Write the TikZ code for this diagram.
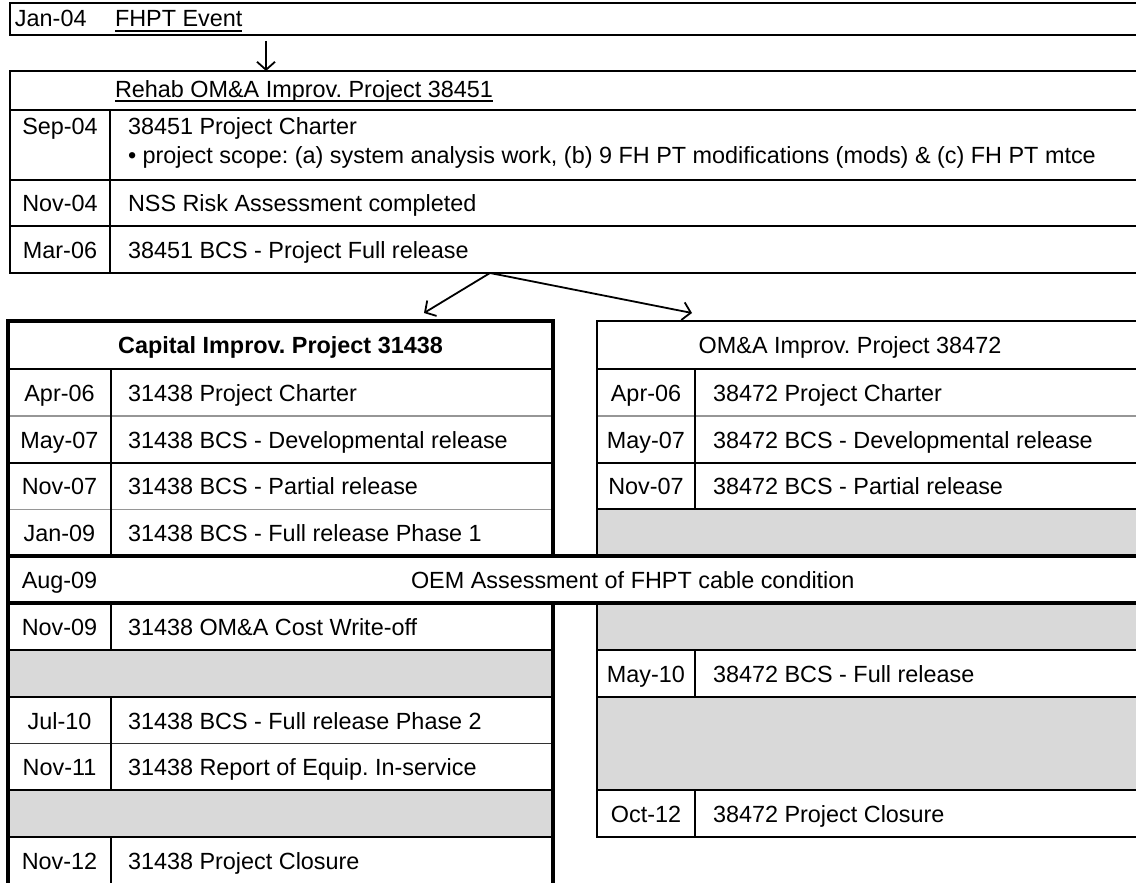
\documentclass[tikz,border=0pt]{standalone}
\usepackage{fontspec}
\setmainfont{Liberation Sans}
\usetikzlibrary{arrows.meta}
\definecolor{cellgray}{RGB}{217,217,217}
\definecolor{faintline}{RGB}{150,150,150}
\frenchspacing
\begin{document}
\begin{tikzpicture}[x=1pt,y=-1pt,
  lbl/.style={font=\fontsize{23.4}{28}\selectfont, inner sep=0pt, outer sep=0pt, anchor=base west, text=black},
  dte/.style={lbl, anchor=base},
  boxn/.style={draw, inner sep=0pt, outer sep=0pt, anchor=north west},
  heavy/.style={line width=3.6pt},
  outer/.style={line width=2.6pt},
  sep/.style={line width=2pt},
  faint/.style={line width=1.2pt, draw=faintline},
  ulin/.style={line width=1.6pt},
  arr/.style={line width=1.8pt, -{Straight Barb[length=8pt,width=18pt,line width=1.8pt]}}
]
\useasboundingbox (0,0) rectangle (1136,883);
\clip (0,0) rectangle (1136,883);
\fill[white] (0,0) rectangle (1136,883);

% ---------- top event ----------
\node[boxn, outer, minimum width=1130pt, minimum height=32pt] (janbox) at (10,3) {};
\node[lbl] (jan) at (15,27) {Jan-04};
\node[lbl] (fhpt) at (115,27) {FHPT Event};
\draw[ulin] ([yshift=-4pt]fhpt.base west) -- ([yshift=-4pt]fhpt.base east);

% ---------- rehab project ----------
\node[boxn, outer, minimum width=1130pt, minimum height=202pt] (rehab) at (10,71) {};
\draw[sep] (10,110) -- (1140,110);
\draw[sep] (10,180) -- (1140,180);
\draw[sep] (10,226) -- (1140,226);
\draw[sep] (110,110) -- (110,273);
\node[lbl] (rehabhdr) at (115,97) {Rehab OM\&A Improv. Project 38451};
\draw[ulin] ([yshift=-4pt]rehabhdr.base west) -- ([yshift=-4pt]rehabhdr.base east);
\node[dte] (r1d) at (60,135) {Sep-04};
\node[lbl] (r1t) at (128,135) {38451 Project Charter};
\node[lbl] (r1b) at (128,163) {\textbullet\ project scope: (a) system analysis work, (b) 9 FH PT modifications (mods) \& (c) FH PT mtce};
\node[dte] (r2d) at (60,211) {Nov-04};
\node[lbl] (r2t) at (128,211) {NSS Risk Assessment completed};
\node[dte] (r3d) at (60,258) {Mar-06};
\node[lbl] (r3t) at (128,258) {38451 BCS - Project Full release};

% arrows
\coordinate (ax) at (266,0);
\coordinate (sx) at (490,0);
\coordinate (tipL) at (424,313);
\coordinate (tipR) at (692,313);
\draw[arr, shorten <=6pt] (janbox.south -| ax) -- (rehab.north -| ax);
\draw[arr] (rehab.south -| sx) -- (tipL);
\draw[arr] (rehab.south -| sx) -- (tipR);

% ---------- capital project (left) ----------
\fill[cellgray] (8,650) rectangle (553,697);
\fill[cellgray] (8,790) rectangle (553,837);
\draw[sep] (8,369) -- (553,369);
\draw[faint] (8,416) -- (553,416);
\draw[sep] (8,462.6) -- (553,462.6);
\draw[faint] (8,509.4) -- (553,509.4);
\draw[sep] (8,650) -- (553,650);
\draw[sep] (8,697) -- (553,697);
\draw[line width=1.5pt, draw=black!80] (8,743.5) -- (553,743.5);
\draw[sep] (8,790) -- (553,790);
\draw[sep] (8,837) -- (553,837);
\draw[sep] (111,369) -- (111,556);
\draw[sep] (111,603) -- (111,650);
\draw[sep] (111,697) -- (111,790);
\draw[sep] (111,837) -- (111,900);
\node[boxn, heavy, minimum width=545pt, minimum height=579pt] (captab) at (8,321) {};
\node[dte, font=\fontsize{23.4}{28}\selectfont\bfseries] (caphdr) at (280.5,353.5) {Capital Improv. Project 31438};
\node[dte] (c1d) at (59.5,401) {Apr-06};
\node[lbl] (c1t) at (128,401) {31438 Project Charter};
\node[dte] (c2d) at (59.5,448) {May-07};
\node[lbl] (c2t) at (128,448) {31438 BCS - Developmental release};
\node[dte] (c3d) at (59.5,494.5) {Nov-07};
\node[lbl] (c3t) at (128,494.5) {31438 BCS - Partial release};
\node[dte] (c4d) at (59.5,541) {Jan-09};
\node[lbl] (c4t) at (128,541) {31438 BCS - Full release Phase 1};
\node[dte] (c5d) at (59.5,635) {Nov-09};
\node[lbl] (c5t) at (128,635) {31438 OM\&A Cost Write-off};
\node[dte] (c6d) at (59.5,729) {Jul-10};
\node[lbl] (c6t) at (128,729) {31438 BCS - Full release Phase 2};
\node[dte] (c7d) at (59.5,775) {Nov-11};
\node[lbl] (c7t) at (128,775) {31438 Report of Equip. In-service};
\node[dte] (c8d) at (59.5,869) {Nov-12};
\node[lbl] (c8t) at (128,869) {31438 Project Closure};

% ---------- OM&A project (right) ----------
\fill[cellgray] (597,509.4) rectangle (1140,556);
\draw[sep] (597,369) -- (1140,369);
\draw[faint] (597,416) -- (1140,416);
\draw[sep] (597,462.6) -- (1140,462.6);
\draw[sep] (597,509.4) -- (1140,509.4);
\draw[sep] (695,369) -- (695,509.4);
\node[boxn, outer, minimum width=543pt, minimum height=235pt] (omtab) at (597,321) {};
\node[dte] (omhdr) at (850,353.5) {OM\&A Improv. Project 38472};
\node[dte] (o1d) at (646,401) {Apr-06};
\node[lbl] (o1t) at (713,401) {38472 Project Charter};
\node[dte] (o2d) at (646,448) {May-07};
\node[lbl] (o2t) at (713,448) {38472 BCS - Developmental release};
\node[dte] (o3d) at (646,494.5) {Nov-07};
\node[lbl] (o3t) at (713,494.5) {38472 BCS - Partial release};

\fill[cellgray] (597,603) rectangle (1140,650);
\fill[cellgray] (597,697) rectangle (1140,790);
\draw[sep] (597,650) -- (1140,650);
\draw[sep] (597,697) -- (1140,697);
\draw[sep] (597,790) -- (1140,790);
\draw[sep] (695,650) -- (695,697);
\draw[sep] (695,790) -- (695,837);
\node[boxn, sep, minimum width=543pt, minimum height=234pt] (omtab2) at (597,603) {};
\node[dte] (o4d) at (646,682) {May-10};
\node[lbl] (o4t) at (713,682) {38472 BCS - Full release};
\node[dte] (o5d) at (646,822) {Oct-12};
\node[lbl] (o5t) at (713,822) {38472 Project Closure};

% ---------- shared Aug-09 row ----------
\node[boxn, heavy, fill=white, minimum width=1132pt, minimum height=47pt] (augrow) at (8,556) {};
\node[dte] (augd) at (59.5,588) {Aug-09};
\node[lbl] (augt) at (411,588) {OEM Assessment of FHPT cable condition};
\end{tikzpicture}
\end{document}
